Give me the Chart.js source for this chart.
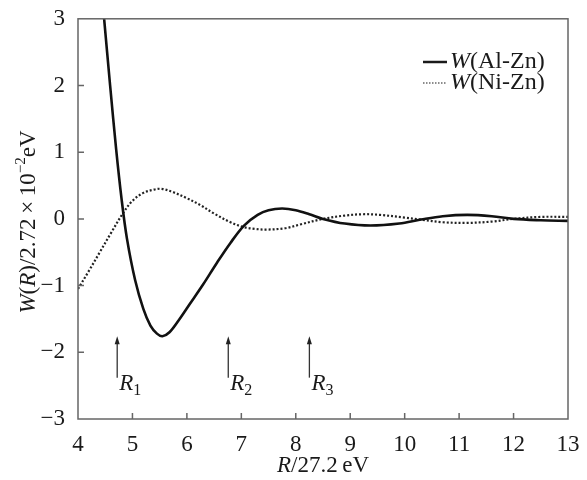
<!DOCTYPE html>
<html>
<head>
<meta charset="utf-8">
<script src="https://cdn.jsdelivr.net/npm/chart.js@4"></script>
<style>
  html, body { margin: 0; padding: 0; background: #fff; }
  #wrap { width: 587px; height: 480px; }
</style>
</head>
<body>
<div id="wrap"><canvas id="chart"></canvas></div>
<script>
// values
const alZnR = [4.48, 4.59, 4.70, 4.80, 4.90, 5.05, 5.20, 5.33, 5.45, 5.55, 5.68, 5.85, 6.05, 6.30, 6.55, 6.80, 7.05, 7.30, 7.50, 7.75, 8.00, 8.25, 8.50, 8.90, 9.37, 9.90, 10.30, 10.70, 11.15, 11.60, 12.00, 12.50, 13.00];
const alZnW = [3.0, 2.0, 1.05, 0.30, -0.30, -0.92, -1.35, -1.60, -1.72, -1.76, -1.70, -1.52, -1.28, -0.98, -0.66, -0.36, -0.10, 0.06, 0.13, 0.155, 0.13, 0.07, 0.0, -0.07, -0.10, -0.07, -0.01, 0.04, 0.06, 0.04, 0.0, -0.02, -0.03];

const niZnR = [4.0, 4.2, 4.4, 4.6, 4.83, 5.0, 5.2, 5.4, 5.54, 5.75, 6.0, 6.24, 6.5, 6.8, 7.03, 7.25, 7.47, 7.8, 8.1, 8.5, 8.9, 9.24, 9.55, 10.0, 10.29, 10.7, 11.15, 11.6, 12.0, 12.5, 13.0];
const niZnW = [-1.05, -0.78, -0.50, -0.22, 0.09, 0.27, 0.39, 0.44, 0.45, 0.40, 0.31, 0.21, 0.08, -0.05, -0.12, -0.15, -0.16, -0.14, -0.08, 0.0, 0.05, 0.07, 0.06, 0.02, -0.01, -0.05, -0.06, -0.04, 0.0, 0.03, 0.03];

const seriesNames = ['Al-Zn', 'Ni-Zn'];
const markerR = [4.72, 6.76, 8.25];
const markerNames = ['1', '2', '3'];
const markerFrom = -2.38;
const markerTo = -1.76;

const xMin = 4, xMax = 13, yMin = -3, yMax = 3;

const serif = '"Liberation Serif", "DejaVu Serif", serif';
const ink = '#1a1a1a';
const axisGrey = '#666';

function pts(xs, ys) {
  return xs.map((x, i) => ({ x: x, y: ys[i] }));
}

// draws a run of [text, italic, dy, size] pieces, returns width
function drawPieces(ctx, pieces, x, y, size, measureOnly) {
  let cx = x;
  pieces.forEach(p => {
    ctx.font = (p[1] ? 'italic ' : '') + (p[3] || size) + 'px ' + serif;
    if (!measureOnly) ctx.fillText(p[0], cx, y + (p[2] || 0));
    cx += ctx.measureText(p[0]).width;
  });
  return cx - x;
}

const framePlugin = {
  id: 'frame',
  afterDraw(chart) {
    const { ctx, chartArea: a, scales } = chart;
    ctx.save();
    ctx.strokeStyle = axisGrey;
    ctx.lineWidth = 1.5;
    ctx.strokeRect(a.left, a.top, a.right - a.left, a.bottom - a.top);
    ctx.beginPath();
    for (let v = xMin + 1; v < xMax; v++) {
      const px = scales.x.getPixelForValue(v);
      ctx.moveTo(px, a.bottom);
      ctx.lineTo(px, a.bottom - 6);
    }
    for (let v = yMin + 1; v < yMax; v++) {
      const py = scales.y.getPixelForValue(v);
      ctx.moveTo(a.left, py);
      ctx.lineTo(a.left + 6, py);
    }
    ctx.stroke();
    ctx.restore();
  }
};

const labelsPlugin = {
  id: 'labels',
  afterDraw(chart) {
    const { ctx, chartArea: a, scales } = chart;
    ctx.save();
    ctx.fillStyle = ink;
    ctx.textBaseline = 'middle';
    ctx.textAlign = 'left';

    // x title
    const xt = [['R', true], ['/27.2\u2009eV', false]];
    const xw = drawPieces(ctx, xt, 0, 0, 23, true);
    drawPieces(ctx, xt, (a.left + a.right) / 2 - xw / 2, 466, 23);

    // y title, rotated
    const yt = [['W', true], ['(', false], ['R', true], [')/2.72\u2009\u00d7\u200910', false], ['\u22122', false, -8, 15], ['eV', false]];
    const yw = drawPieces(ctx, yt, 0, 0, 23, true);
    ctx.save();
    ctx.translate(29, 222);
    ctx.rotate(-Math.PI / 2);
    drawPieces(ctx, yt, -yw / 2, 0, 23);
    ctx.restore();

    // legend
    const styles = [[], [1.5, 1.5]];
    const widths = [2.5, 1.2];
    seriesNames.forEach((name, i) => {
      const y = 62 + i * 21;
      ctx.beginPath();
      ctx.setLineDash(styles[i]);
      ctx.lineWidth = widths[i];
      ctx.strokeStyle = ink;
      ctx.moveTo(423, y);
      ctx.lineTo(447, y);
      ctx.stroke();
      ctx.setLineDash([]);
      drawPieces(ctx, [['W', true], ['(' + name + ')', false]], 450, y, 24);
    });

    // arrows at R1, R2, R3
    markerR.forEach((r, i) => {
      const px = scales.x.getPixelForValue(r);
      const y0 = scales.y.getPixelForValue(markerFrom);
      const y1 = scales.y.getPixelForValue(markerTo);
      ctx.strokeStyle = '#333';
      ctx.lineWidth = 1.3;
      ctx.beginPath();
      ctx.moveTo(px, y0);
      ctx.lineTo(px, y1 + 6);
      ctx.stroke();
      ctx.fillStyle = '#222';
      ctx.beginPath();
      ctx.moveTo(px, y1);
      ctx.lineTo(px - 2.5, y1 + 8);
      ctx.lineTo(px + 2.5, y1 + 8);
      ctx.closePath();
      ctx.fill();
      ctx.fillStyle = ink;
      drawPieces(ctx, [['R', true], [markerNames[i], false, 7, 16]], px + 2, y0 + 6, 23);
    });
    ctx.restore();
  }
};

new Chart(document.getElementById('chart'), {
  type: 'scatter',
  data: {
    datasets: [
      {
        label: 'W(' + seriesNames[0] + ')',
        data: pts(alZnR, alZnW),
        showLine: true,
        borderColor: '#111',
        borderWidth: 2.6,
        pointRadius: 0,
        tension: 0.35
      },
      {
        label: 'W(' + seriesNames[1] + ')',
        data: pts(niZnR, niZnW),
        showLine: true,
        borderColor: '#222',
        borderWidth: 2.2,
        borderDash: [2, 2],
        pointRadius: 0,
        tension: 0.35
      }
    ]
  },
  options: {
    responsive: true,
    maintainAspectRatio: false,
    animation: false,
    layout: { padding: { top: 15, right: 19, left: 0, bottom: 0 } },
    plugins: { legend: { display: false }, tooltip: { enabled: false } },
    scales: {
      x: {
        type: 'linear',
        min: xMin,
        max: xMax,
        grid: { display: false },
        border: { display: false },
        ticks: { stepSize: 1, color: ink, padding: 4, maxRotation: 0, font: { family: serif, size: 23 } },
        afterFit(scale) { scale.height = 61; }
      },
      y: {
        min: yMin,
        max: yMax,
        grid: { display: false },
        border: { display: false },
        ticks: {
          stepSize: 1,
          color: ink,
          padding: 5,
          font: { family: serif, size: 23 },
          callback: v => (v < 0 ? '\u2212' + Math.abs(v) : String(v))
        },
        afterFit(scale) { scale.width = 78; }
      }
    }
  },
  plugins: [framePlugin, labelsPlugin]
});
</script>
</body>
</html>
